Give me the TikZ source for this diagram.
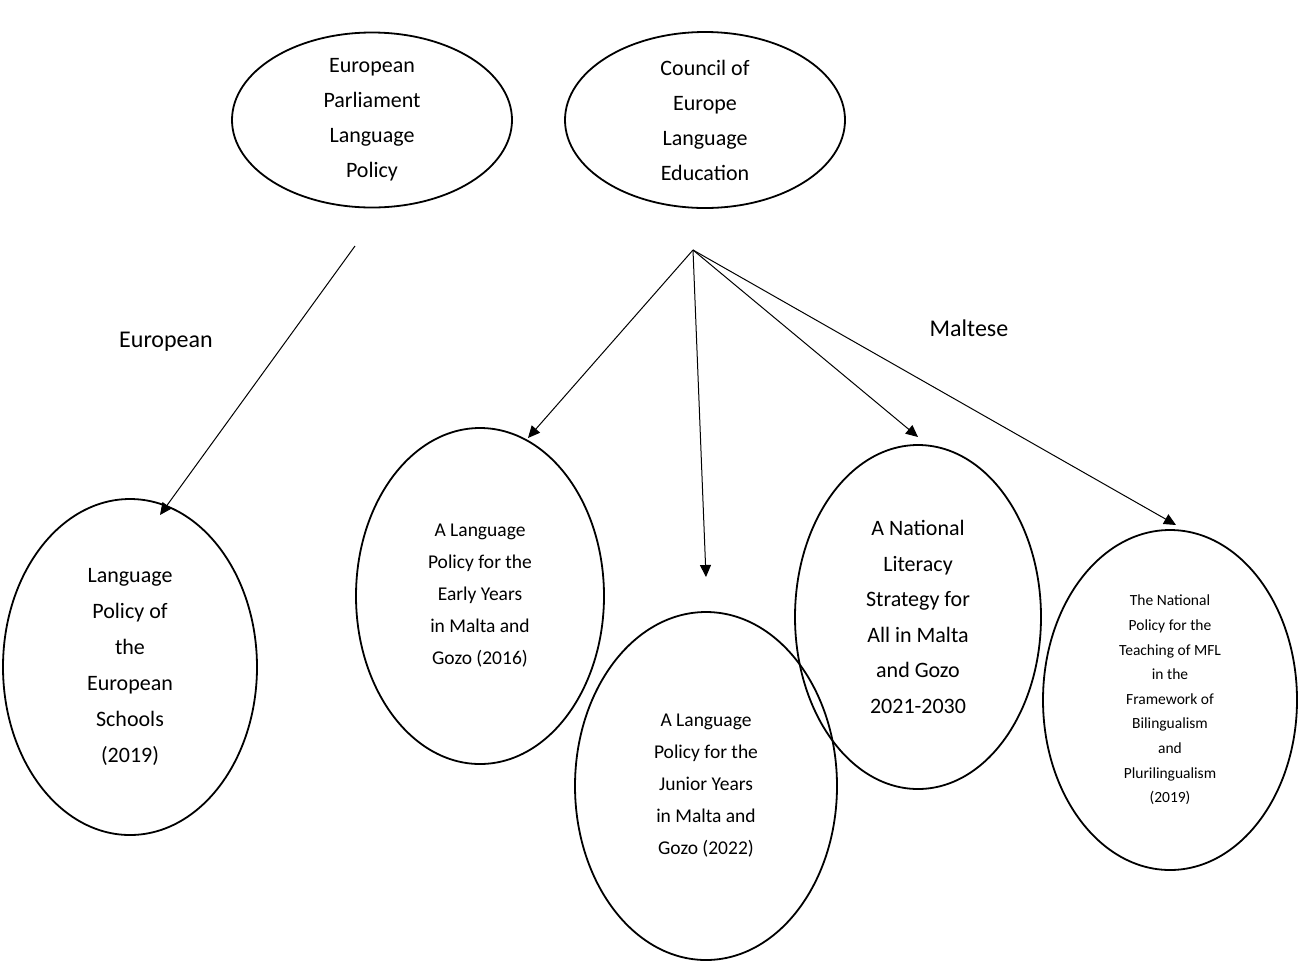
\documentclass[tikz,border=0pt]{standalone}
\usepackage{fontspec}
\setmainfont{Carlito}
\usetikzlibrary{arrows.meta,shapes.geometric}
\begin{document}
\begin{tikzpicture}[x=1pt,y=-1pt,
  ell/.style={draw,line width=1.8pt,ellipse,inner sep=0pt,align=center},
  arr/.style={line width=1pt,-{Triangle[length=12pt,width=11pt]}},
  lbl/.style={font=\fontsize{24}{28}\selectfont}]
\useasboundingbox (0,0) rectangle (1311,970);
\node[ell,minimum width=280,minimum height=175,font=\fontsize{22}{35}\selectfont] (ep) at (372,120) {European\\Parliament\\Language\\Policy};
\node[ell,minimum width=280,minimum height=176,font=\fontsize{22}{35}\selectfont] (coe) at (705,120) {Council of\\Europe\\Language\\Education};
\node[ell,minimum width=254,minimum height=336,font=\fontsize{22}{36}\selectfont] (es) at (130,667) {Language\\Policy of\\the\\European\\Schools\\(2019)};
\node[ell,minimum width=248,minimum height=336,font=\fontsize{19.5}{32}\selectfont] (ey) at (480,596) {A Language\\Policy for the\\Early Years\\in Malta and\\Gozo (2016)};
\node[ell,minimum width=262,minimum height=348,font=\fontsize{19.5}{32}\selectfont] (jy) at (706,786) {A Language\\Policy for the\\Junior Years\\in Malta and\\Gozo (2022)};
\node[ell,minimum width=246,minimum height=344,font=\fontsize{22}{35.5}\selectfont] (nl) at (918,617) {A National\\Literacy\\Strategy for\\All in Malta\\and Gozo\\2021-2030};
\node[ell,minimum width=254,minimum height=340,font=\fontsize{15.5}{24.6}\selectfont] (mfl) at (1170,700) {The National\\Policy for the\\Teaching of MFL\\in the\\Framework of\\Bilingualism\\and\\Plurilingualism\\(2019)};
\coordinate (a) at (355,246);
\coordinate (b) at (693,250);
\draw[arr] (a) -- (160,515) coordinate (t1);
\draw[arr] (b) -- (528,438);
\draw[arr] (b) -- (706,577);
\draw[arr] (b) -- (918,437);
\draw[arr] (b) -- (1176,525);
\node[lbl] (eu) at (166,342) {European};
\node[lbl] (mt) at (969,328) {Maltese};
\end{tikzpicture}
\end{document}
